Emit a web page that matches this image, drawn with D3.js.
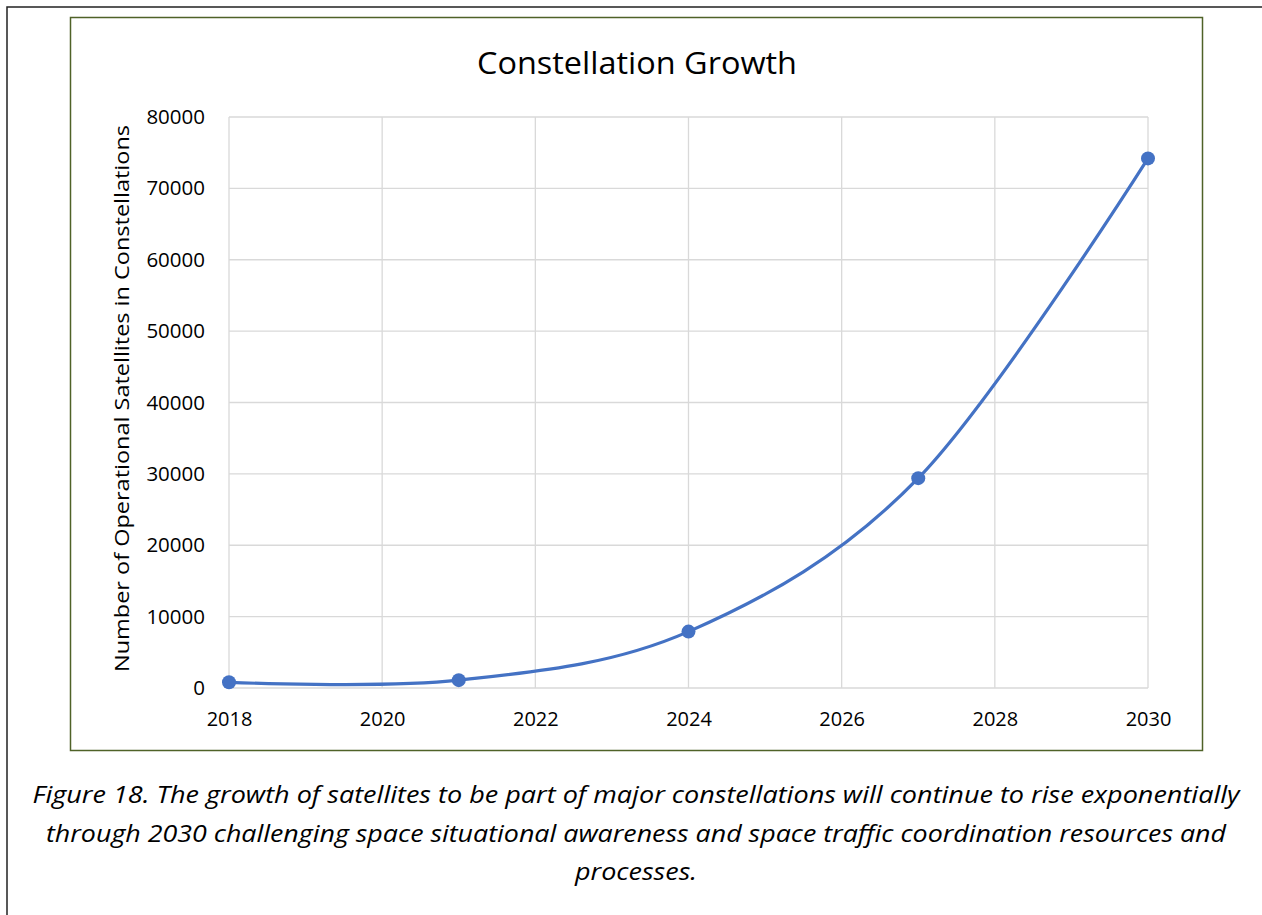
<!DOCTYPE html>
<html>
<head>
    <title>Constellation Growth</title>
    <style>
        body { margin: 0; background: white; }
        text { font-family: "Open Sans", "Noto Sans", sans-serif; fill: #000; }
        .grid line { stroke: #d9d9d9; stroke-width: 1.3px; }
        .caption { font-style: italic; }
    </style>
</head>
<body>
    <svg width="1262" height="915"></svg>

    <script src="https://d3js.org/d3.v7.min.js"></script>
    <script>
        // data
        const years = [2018, 2021, 2024, 2027, 2030];
        const satellites = [800, 1100, 7900, 29400, 74200];
        const xTicks = [2018, 2020, 2022, 2024, 2026, 2028, 2030];
        const yTicks = [0, 10000, 20000, 30000, 40000, 50000, 60000, 70000, 80000];
        const captionLines = [
            "Figure 18. The growth of satellites to be part of major constellations will continue to rise exponentially",
            "through 2030 challenging space situational awareness and space traffic coordination resources and",
            "processes."
        ];

        const svg = d3.select("svg");

        // outer page frame (runs off the bottom / right)
        svg.append("rect")
            .attr("x", 7).attr("y", 7)
            .attr("width", 1300).attr("height", 1000)
            .attr("fill", "none").attr("stroke", "#222").attr("stroke-width", 1.5);

        // chart frame
        svg.append("rect")
            .attr("x", 70.5).attr("y", 17.5)
            .attr("width", 1132).attr("height", 733)
            .attr("fill", "white").attr("stroke", "#4f6228").attr("stroke-width", 1.5);

        const x = d3.scaleLinear().domain([2018, 2030]).range([229, 1148]);
        const y = d3.scaleLinear().domain([0, 80000]).range([688, 117]);

        // grid
        const grid = svg.append("g").attr("class", "grid");
        grid.selectAll(".h").data(yTicks).enter().append("line")
            .attr("x1", x(2018)).attr("x2", x(2030))
            .attr("y1", d => y(d)).attr("y2", d => y(d));
        grid.selectAll(".v").data(xTicks).enter().append("line")
            .attr("x1", d => x(d)).attr("x2", d => x(d))
            .attr("y1", y(0)).attr("y2", y(80000));

        // axes
        const yAxis = svg.append("g")
            .attr("transform", `translate(${x(2018) - 24},0)`)
            .call(d3.axisLeft(y).tickValues(yTicks).tickSize(0).tickFormat(d3.format("d")));
        yAxis.select(".domain").remove();
        yAxis.selectAll("text").attr("font-size", 20.5).attr("x", 0)
            .style("font-family", "'Open Sans', sans-serif");

        const xAxis = svg.append("g")
            .attr("transform", `translate(0,${y(0) + 21})`)
            .call(d3.axisBottom(x).tickValues(xTicks).tickSize(0).tickFormat(d3.format("d")));
        xAxis.select(".domain").remove();
        xAxis.selectAll("text").attr("font-size", 20)
            .style("font-family", "'Open Sans', sans-serif");

        // title
        svg.append("text")
            .attr("x", 637).attr("y", 74)
            .attr("text-anchor", "middle")
            .attr("font-size", 31)
            .attr("textLength", 320).attr("lengthAdjust", "spacingAndGlyphs")
            .text("Constellation Growth");

        // y axis title
        svg.append("text")
            .attr("transform", `translate(129,${(125 + 672) / 2}) rotate(-90)`)
            .attr("text-anchor", "middle")
            .attr("font-size", 20.5)
            .attr("textLength", 547).attr("lengthAdjust", "spacingAndGlyphs")
            .text("Number of Operational Satellites in Constellations");

        // line
        const pts = years.map((yr, i) => [yr, satellites[i]]);
        const line = d3.line()
            .x(d => x(d[0]))
            .y(d => y(d[1]))
            .curve(d3.curveCardinal.tension(0));

        svg.append("path")
            .datum(pts)
            .attr("d", line)
            .attr("fill", "none")
            .attr("stroke", "#4472c4")
            .attr("stroke-width", 3.2);

        svg.selectAll(".pt").data(pts).enter().append("circle")
            .attr("cx", d => x(d[0]))
            .attr("cy", d => y(d[1]))
            .attr("r", 7)
            .attr("fill", "#4472c4");

        // caption
        const capWidths = [1207, 1180, 122];
        svg.selectAll(".caption").data(captionLines).enter().append("text")
            .attr("class", "caption")
            .attr("x", 636)
            .attr("y", (d, i) => 803 + i * 38.5)
            .attr("text-anchor", "middle")
            .attr("font-size", 24)
            .attr("textLength", (d, i) => capWidths[i])
            .attr("lengthAdjust", "spacingAndGlyphs")
            .text(d => d);
    </script>
</body>
</html>
